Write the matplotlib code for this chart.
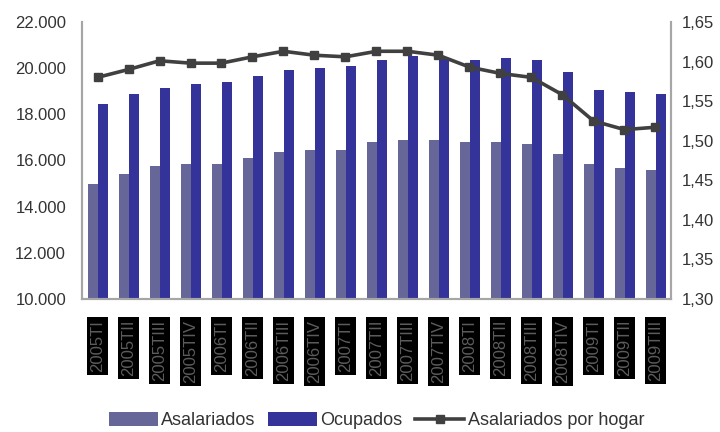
import matplotlib.pyplot as plt
import numpy as np

plt.rcParams['font.family'] = ['Liberation Sans', 'DejaVu Sans']

# trimestres
trimestres = ['2005TI', '2005TII', '2005TIII', '2005TIV',
              '2006TI', '2006TII', '2006TIII', '2006TIV',
              '2007TI', '2007TII', '2007TIII', '2007TIV',
              '2008TI', '2008TII', '2008TIII', '2008TIV',
              '2009TI', '2009TII', '2009TIII']

# miles de personas
asalariados = [14980, 15410, 15760, 15840, 15840, 16100, 16360, 16450, 16450, 16800,
               16880, 16880, 16800, 16800, 16710, 16280, 15840, 15670, 15580]
ocupados = [18440, 18870, 19130, 19310, 19390, 19650, 19910, 20000, 20090, 20350,
            20520, 20450, 20350, 20430, 20350, 19830, 19050, 18960, 18870]

# asalariados por hogar
por_hogar = [1.580, 1.590, 1.601, 1.598, 1.598, 1.606, 1.613, 1.608, 1.606, 1.613,
             1.613, 1.608, 1.593, 1.585, 1.580, 1.558, 1.525, 1.514, 1.517]

x = np.arange(len(trimestres))
gris = '#a6a6a6'
texto = '#333333'

fig = plt.figure(figsize=(7.2, 4.32), dpi=100)
ax = fig.add_axes([0.1139, 0.3079, 0.818, 0.6412])

b1 = ax.bar(x - 0.14, asalariados, width=0.31, color='#666699', label='Asalariados')
b2 = ax.bar(x + 0.17, ocupados, width=0.31, color='#333399', label='Ocupados')

ax.set_xlim(-0.5, len(trimestres) - 0.5)
ax.set_ylim(10000, 22000)
ax.set_yticks(np.arange(10000, 22001, 2000))
ax.set_yticklabels([f'{v:,}'.replace(',', '.') for v in range(10000, 22001, 2000)])

ax.set_xticks(x)
ax.set_xticklabels(trimestres, rotation=90, va='top', ha='center')
for lab in ax.get_xticklabels():
    lab.set_color('#5c5c5c')
    lab.set_fontsize(12)
    lab.set_bbox(dict(facecolor='black', edgecolor='none', pad=2.2))

ax.tick_params(axis='x', length=0, pad=15)
ax.tick_params(axis='y', length=0, pad=11.5, labelsize=12, labelcolor=texto)

ax.spines['top'].set_visible(False)
for s in ['left', 'bottom', 'right']:
    ax.spines[s].set_color(gris)
    ax.spines[s].set_linewidth(1.5)

ax2 = ax.twinx()
l1, = ax2.plot(x, por_hogar, color='#404040', linewidth=2.6, marker='s',
               markersize=5.5, label='Asalariados por hogar')
ax2.set_ylim(1.30, 1.65)
ticks2 = np.arange(1.30, 1.651, 0.05)
ax2.set_yticks(ticks2)
ax2.set_yticklabels([f'{v:.2f}'.replace('.', ',') for v in ticks2])
ax2.tick_params(axis='y', length=0, pad=8, labelsize=12, labelcolor=texto)
ax2.spines['top'].set_visible(False)
for s in ['left', 'bottom', 'right']:
    ax2.spines[s].set_color(gris)
    ax2.spines[s].set_linewidth(1.5)

fig.legend(handles=[b1, b2, l1], loc='center', bbox_to_anchor=(0.523, 0.026),
           ncol=3, frameon=False, fontsize=13, handlelength=2.7,
           handleheight=0.8, handletextpad=0.2, columnspacing=0.7,
           borderpad=0, labelcolor=texto)

fig.savefig('out.png', dpi=100)
